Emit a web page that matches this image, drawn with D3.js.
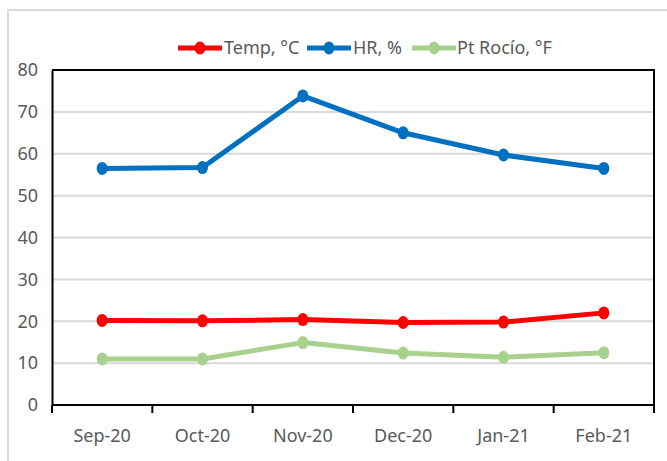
<!DOCTYPE html>
<html>
<head>
<meta charset="utf-8">
<script src="https://cdn.jsdelivr.net/npm/d3@7"></script>
<style>
  html, body { margin: 0; padding: 0; background: #fff; }
  svg { display: block; }
</style>
</head>
<body>
<svg id="chart" width="667" height="461"></svg>
<script>
// Monthly climate readings
const months = ["Sep-20", "Oct-20", "Nov-20", "Dec-20", "Jan-21", "Feb-21"];
const tempC = [20.2, 20.1, 20.4, 19.7, 19.8, 22.0];
const humidity = [56.5, 56.7, 73.8, 65.0, 59.7, 56.5];
const dewPoint = [11.0, 11.0, 14.9, 12.4, 11.4, 12.5];
const yTicks = [0, 10, 20, 30, 40, 50, 60, 70, 80];

const seriesList = [
  { name: "Temp, °C", values: tempC, color: "#ff0000" },
  { name: "HR, %", values: humidity, color: "#0070c0" },
  { name: "Pt Rocío, °F", values: dewPoint, color: "#a9d18e" }
];

const FONT = "'Liberation Sans Narrow', 'Arial Narrow', 'Noto Sans', sans-serif";
const svg = d3.select("#chart");

// outer chart frame
svg.append("path")
  .attr("d", "M8,470 L8,10 L680,10")
  .attr("fill", "none")
  .attr("stroke", "#d9d9d9")
  .attr("stroke-width", 2);

const plot = { left: 52, right: 654, top: 70, bottom: 405 };

const x = d3.scaleBand().domain(months).range([plot.left, plot.right]).padding(0);
const y = d3.scaleLinear().domain([0, 80]).range([plot.bottom, plot.top]);

// horizontal gridlines
svg.append("g")
  .selectAll("line")
  .data(yTicks.filter(t => t > 0 && t < 80))
  .join("line")
  .attr("x1", plot.left).attr("x2", plot.right)
  .attr("y1", d => y(d)).attr("y2", d => y(d))
  .attr("stroke", "#d9d9d9")
  .attr("stroke-width", 2);

// plot area frame (top and right)
svg.append("path")
  .attr("d", `M${plot.left},${plot.top} L${plot.right},${plot.top} L${plot.right},${plot.bottom}`)
  .attr("fill", "none")
  .attr("stroke", "#000")
  .attr("stroke-width", 2);

// y axis
const yAxis = svg.append("g")
  .attr("transform", `translate(${plot.left},0)`)
  .call(d3.axisLeft(y).tickValues(yTicks).tickSize(0).tickPadding(14));
yAxis.select(".domain").attr("stroke", "#000").attr("stroke-width", 2);
yAxis.selectAll("text")
  .attr("fill", "#595959")
  .style("font-family", FONT)
  .style("font-size", "18px");

// x axis with boundary ticks between categories
const xAxis = svg.append("g")
  .attr("transform", `translate(0,${plot.bottom})`)
  .call(d3.axisBottom(x).tickSize(0).tickPadding(24));
xAxis.select(".domain").remove();
xAxis.append("line")
  .attr("x1", plot.left).attr("x2", plot.right)
  .attr("stroke", "#000").attr("stroke-width", 2);
const bounds = months.map(m => x(m)).concat([x(months[months.length - 1]) + x.bandwidth()]);
xAxis.selectAll(".bound")
  .data(bounds)
  .join("line")
  .attr("class", "bound")
  .attr("x1", d => d).attr("x2", d => d)
  .attr("y1", 0).attr("y2", 8)
  .attr("stroke", "#000").attr("stroke-width", 2);
xAxis.selectAll(".tick text")
  .attr("fill", "#595959")
  .style("font-family", FONT)
  .style("font-size", "18px");

// series lines and markers
const cx = m => x(m) + x.bandwidth() / 2;
const line = d3.line().x(d => cx(d.m)).y(d => y(d.v));

seriesList.forEach(s => {
  const pts = months.map((m, i) => ({ m, v: s.values[i] }));
  const g = svg.append("g");
  g.append("path")
    .datum(pts)
    .attr("d", line)
    .attr("fill", "none")
    .attr("stroke", s.color)
    .attr("stroke-width", 5)
    .attr("stroke-linejoin", "round");
  g.selectAll("ellipse")
    .data(pts)
    .join("ellipse")
    .attr("cx", d => cx(d.m))
    .attr("cy", d => y(d.v))
    .attr("rx", 5.5)
    .attr("ry", 6.5)
    .attr("fill", s.color);
});

// legend
const legendItems = [
  { x: 178, text: 224 },
  { x: 307, text: 353 },
  { x: 412, text: 457 }
];
const lg = svg.append("g");
seriesList.forEach((s, i) => {
  const it = legendItems[i];
  lg.append("line")
    .attr("x1", it.x).attr("x2", it.x + 44)
    .attr("y1", 48).attr("y2", 48)
    .attr("stroke", s.color).attr("stroke-width", 5);
  lg.append("ellipse")
    .attr("cx", it.x + 22).attr("cy", 48)
    .attr("rx", 5.5).attr("ry", 6.5)
    .attr("fill", s.color);
  lg.append("text")
    .attr("x", it.text).attr("y", 54)
    .attr("fill", "#595959")
    .style("font-family", FONT)
    .style("font-size", "18px")
    .text(s.name);
});
</script>
</body>
</html>
